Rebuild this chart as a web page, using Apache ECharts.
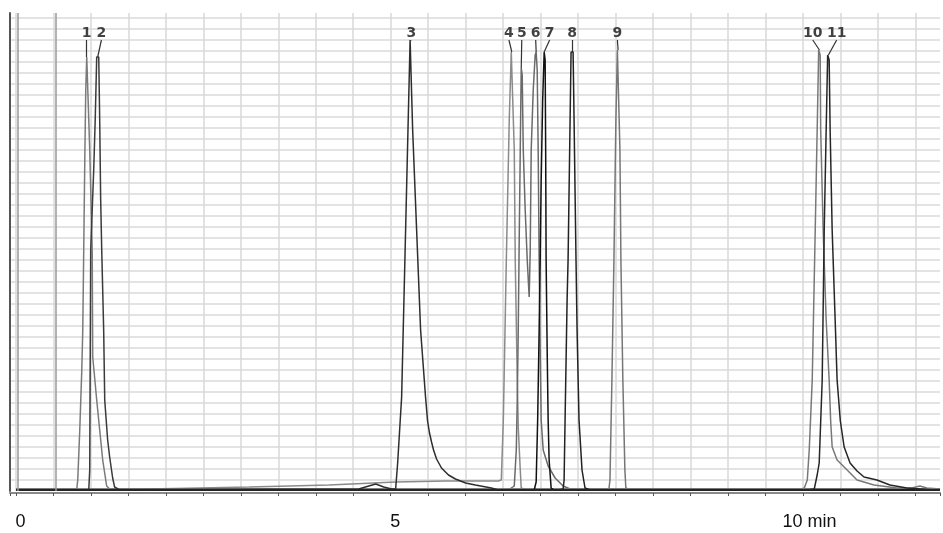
<!DOCTYPE html>
<html><head><meta charset="utf-8">
<script src="https://cdn.jsdelivr.net/npm/echarts@6/dist/echarts.min.js"></script>
<style>html,body{margin:0;padding:0;background:#fff}#c{width:943px;height:533px}</style>
</head><body><div id="c"></div>
<script>
// time in minutes, signal in arbitrary units
const trace1 = [[0,2],[0.811,2],[0.824,11],[0.851,61],[0.878,121],[0.891,161],[0.904,241],[0.918,331],[0.931,401],[0.944,434],[0.957,434],[0.984,341],[1.017,241],[1.024,134],[1.077,91],[1.117,61],[1.157,31],[1.210,5],[1.250,2],[12.33,2]];
const trace2 = [[0,1],[0.971,1],[0.984,21],[0.991,141],[0.997,241],[1.037,321],[1.057,371],[1.077,434],[1.104,434],[1.117,371],[1.130,291],[1.144,241],[1.170,161],[1.184,91],[1.223,51],[1.250,34],[1.290,13],[1.316,4],[1.383,1],[12.33,1]];
const trace3 = [[0,1],[4.574,2],[4.707,5],[4.801,7],[4.907,4],[5.013,2],[5.066,2],[5.093,28],[5.146,94],[5.199,261],[5.259,451],[5.279,451],[5.293,361],[5.346,261],[5.399,161],[5.465,94],[5.492,70],[5.518,58],[5.545,49],[5.572,41],[5.612,32],[5.678,23],[5.771,16],[5.864,12],[6.000,8],[6.130,6],[6.343,3],[6.436,1],[12.33,1]];
const trace4 = [[0,2],[1.782,2],[3.112,4],[4.176,6],[5.066,9],[5.731,10],[6.436,10],[6.476,11],[6.503,71],[6.543,231],[6.582,371],[6.609,439],[6.622,439],[6.649,341],[6.662,231],[6.689,111],[6.702,64],[6.729,21],[6.742,3],[6.809,1],[12.33,1]];
const trace5 = [[0,1],[6.569,1],[6.649,5],[6.676,41],[6.689,91],[6.702,161],[6.715,251],[6.729,341],[6.742,423],[6.755,416],[6.769,341],[6.795,281],[6.822,231],[6.848,194],[6.862,241],[6.875,341],[6.902,401],[6.928,436],[6.941,439],[6.955,421],[6.968,341],[6.981,231],[6.995,141],[7.008,71],[7.035,41],[7.101,25],[7.194,13],[7.301,5],[7.394,2],[12.33,2]];
const trace7 = [[0,1],[6.915,1],[6.941,9],[6.961,71],[6.981,161],[6.995,231],[7.008,311],[7.028,391],[7.048,439],[7.061,431],[7.068,341],[7.074,231],[7.088,141],[7.101,71],[7.114,31],[7.141,3],[7.181,1],[12.33,1]];
const trace8 = [[0,1],[7.234,1],[7.301,2],[7.314,11],[7.327,71],[7.354,191],[7.367,231],[7.394,371],[7.407,439],[7.434,439],[7.447,371],[7.473,231],[7.487,161],[7.513,71],[7.553,21],[7.593,3],[7.660,1],[12.33,1]];
const trace9 = [[0,1],[7.832,1],[7.912,2],[7.926,11],[7.952,111],[7.979,231],[8.005,371],[8.025,441],[8.045,441],[8.059,341],[8.072,231],[8.098,111],[8.125,21],[8.138,3],[8.191,1],[12.33,1]];
const trace10 = [[0,2],[10.160,2],[10.492,2],[10.519,3],[10.559,11],[10.585,41],[10.625,111],[10.665,261],[10.691,361],[10.711,441],[10.731,436],[10.738,361],[10.771,261],[10.811,171],[10.851,111],[10.871,70],[10.891,44],[10.957,31],[11.051,24],[11.223,11],[11.449,6],[11.755,3],[11.955,3],[12.061,5],[12.154,3],[12.33,2]];
const trace11 = [[0,1],[10.559,1],[10.652,2],[10.691,16],[10.718,28],[10.758,111],[10.785,261],[10.811,361],[10.831,436],[10.851,431],[10.864,361],[10.891,261],[10.931,171],[10.957,111],[11.000,70],[11.051,44],[11.130,28],[11.223,20],[11.316,14],[11.489,11],[11.662,6],[11.888,3],[12.247,1],[12.33,1]];

const peakNames = ['1','2','3','4','5','6','7','8','9','10','11'];
const labelTimes = [0.944, 1.140, 5.275, 6.578, 6.749, 6.935, 7.121, 7.420, 8.025, 10.632, 10.951];
const apexTimes = [0.944, 1.090, 5.266, 6.616, 6.742, 6.941, 7.048, 7.420, 8.035, 10.721, 10.841];
const apexValues = [434, 434, 451, 439, 423, 439, 439, 439, 441, 441, 436];
const markerTimes = [0.027, 0.532];
const tickValues = [0, 5, 10];
const tickTexts = ['0', '5', '10 min'];

const traces = [
  {d: trace4, c: '#8a8a8a'}, {d: trace1, c: '#7a7a7a'}, {d: trace5, c: '#6a6a6a'},
  {d: trace9, c: '#767676'}, {d: trace10, c: '#787878'}, {d: trace2, c: '#3a3a3a'},
  {d: trace3, c: '#2e2e2e'}, {d: trace7, c: '#111111'}, {d: trace8, c: '#222222'},
  {d: trace11, c: '#262626'}
];

const LABEL_TOP = 451, LABEL_MID = 458;

const series = traces.map((t, i) => ({
  type: 'line', data: t.d, showSymbol: false, symbol: 'none', silent: true,
  lineStyle: {color: t.c, width: 1.5}, z: 3,
  markLine: i === 0 ? {
    silent: true, symbol: ['none', 'none'], label: {show: false},
    lineStyle: {color: '#9a9a9a', width: 1.5, type: 'solid'},
    data: markerTimes.map(x => ({xAxis: x}))
  } : undefined
}));

series.push({
  type: 'scatter', symbolSize: 1, itemStyle: {color: 'rgba(0,0,0,0)'}, silent: true, z: 5,
  data: peakNames.map((n, i) => [labelTimes[i], LABEL_MID, n]),
  label: {show: true, position: 'inside', formatter: p => p.data[2],
    fontFamily: 'DejaVu Sans', fontWeight: 'bold', fontSize: 14, color: '#111'},
  markLine: {
    silent: true, symbol: ['none', 'none'], label: {show: false},
    lineStyle: {color: '#333', width: 1.2, type: 'solid'},
    data: peakNames.map((n, i) => [{coord: [labelTimes[i], LABEL_TOP]}, {coord: [apexTimes[i], apexValues[i]]}])
  }
});

const chart = echarts.init(document.getElementById('c'), null, {renderer: 'canvas'});
chart.setOption({
  animation: false,
  backgroundColor: '#ffffff',
  grid: {left: 10, right: 0, top: 13, bottom: 42, containLabel: false},
  xAxis: {
    type: 'value', min: -0.08, max: 12.33, splitNumber: 25, minInterval: 0.5, maxInterval: 0.5,
    offset: 2,
    axisLine: {show: true, onZero: false, lineStyle: {color: '#8a8a8a', width: 2}},
    axisTick: {show: true, length: 3, lineStyle: {color: '#555'}},
    splitLine: {show: true, showMinLine: false, showMaxLine: false, lineStyle: {color: '#d9d9d9', width: 1.5}},
    axisLabel: {
      show: true, margin: 19,
      formatter: v => {
        for (let k = 0; k < tickValues.length; k++) {
          if (Math.abs(v - tickValues[k]) < 1e-6) return (k === 2 ? '{b|' : '{a|') + tickTexts[k] + '}';
        }
        return '';
      },
      rich: {
        a: {fontFamily: 'Liberation Sans', fontSize: 18, color: '#111', lineHeight: 20, padding: [0, 0, 0, 9]},
        b: {fontFamily: 'Liberation Sans', fontSize: 18, color: '#111', lineHeight: 20, padding: [0, 0, 0, 88]}
      }
    }
  },
  yAxis: {
    type: 'value', min: 0, max: 478, interval: 11,
    axisLine: {show: true, onZero: false, lineStyle: {color: '#555', width: 2}},
    axisTick: {show: false}, axisLabel: {show: false},
    splitLine: {show: true, showMinLine: false, showMaxLine: false, lineStyle: {color: '#dadada', width: 1.5}}
  },
  series: series
});
</script>
</body></html>
